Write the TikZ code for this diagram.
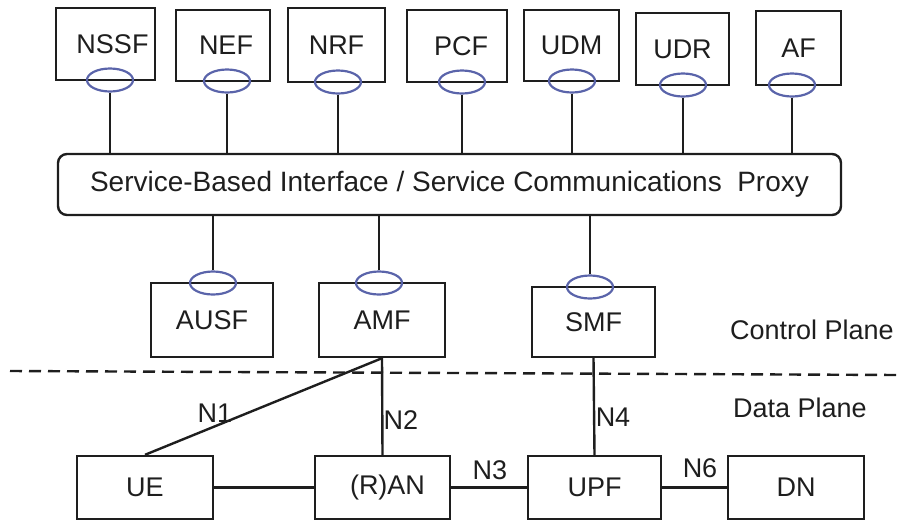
\documentclass[tikz,border=0pt]{standalone}
\usepackage{fontspec}
\setmainfont{Liberation Sans}
\usetikzlibrary{shapes.geometric}
\definecolor{ink}{RGB}{30,30,30}
\definecolor{portblue}{RGB}{90,100,170}
\tikzset{
  nf/.style={rectangle,draw=ink,line width=2.4pt,inner sep=0pt,text=ink,font=\fontsize{27}{30}\selectfont},
  port/.style={ellipse,draw=portblue,line width=2.2pt,minimum width=46pt,minimum height=23pt,inner sep=0pt},
  lbl/.style={inner sep=0pt,text=ink,font=\fontsize{27}{30}\selectfont},
  link/.style={draw=ink,line width=2.4pt},
}
\begin{document}
\begin{tikzpicture}[x=1pt,y=-1pt]
\useasboundingbox (0,0) rectangle (899,520);
% network functions on top
\node[nf,minimum width=99pt,minimum height=72pt] (nssf) at (105.5,44){\hspace{14pt}NSSF};
\node[nf,minimum width=94pt,minimum height=71pt] (nef) at (223,45.5){\hspace{6pt}NEF};
\node[nf,minimum width=97pt,minimum height=74pt] (nrf) at (336.5,45){NRF};
\node[nf,minimum width=100pt,minimum height=72pt] (pcf) at (457,46){\hspace{8pt}PCF};
\node[nf,minimum width=95pt,minimum height=71pt] (udm) at (571.5,45.5){UDM};
\node[nf,minimum width=93pt,minimum height=72pt] (udr) at (682.5,49){UDR};
\node[nf,minimum width=85pt,minimum height=74pt] (af) at (798.5,48){AF};
% service based interface
\node[rectangle,rounded corners=9pt,draw=ink,line width=2.4pt,minimum width=783pt,minimum height=61pt,
  text=ink,font=\fontsize{28}{30}\selectfont] (sbi) at (449.5,184.5)
  {Service-Based Interface / Service Communications\ \ Proxy};
% control plane functions
\node[nf,minimum width=122pt,minimum height=74pt] (ausf) at (212,320){AUSF};
\node[nf,minimum width=126pt,minimum height=74pt] (amf) at (382,320){AMF};
\node[nf,minimum width=123pt,minimum height=70pt] (smf) at (593.5,322){SMF};
% data plane
\node[nf,minimum width=136pt,minimum height=63pt] (ue) at (145,487.5){UE};
\node[nf,minimum width=135pt,minimum height=63pt] (ran) at (382.5,487.5){\hspace{10pt}(R)AN};
\node[nf,minimum width=133pt,minimum height=63pt] (upf) at (594.5,487.5){UPF};
\node[nf,minimum width=136pt,minimum height=63pt] (dn) at (796,487.5){DN};
% service interfaces
\node[port] (nssfp) at (110,80){};
\node[port] (nefp) at (227,81){};
\node[port] (nrfp) at (338,82){};
\node[port] (pcfp) at (462,82){};
\node[port] (udmp) at (572,81){};
\node[port] (udrp) at (683,85){};
\node[port] (afp) at (792,85){};
\node[port] (ausfp) at (213,283){};
\node[port] (amfp) at (379,283){};
\node[port] (smfp) at (590,287){};
\foreach \p in {nssfp,nefp,nrfp,pcfp,udmp,udrp,afp}
  \draw[link] (\p.south) -- (\p.south |- sbi.north);
\foreach \p in {ausfp,amfp,smfp}
  \draw[link] (\p.north) -- (\p.north |- sbi.south);
% plane separator
\coordinate (sepl) at (10,371);
\coordinate (sepr) at (899,375);
\draw[draw=ink,line width=2.4pt,dash pattern=on 12pt off 7pt] (sepl) -- (sepr);
\node[lbl] (cp) at (812,330){Control Plane};
\node[lbl] (dp) at (800,408){Data Plane};
% reference points
\draw[link] (amf.south) -- (ue.north);
\draw[link] (amf.south) -- (ran.north);
\draw[link] (smf.south) -- (upf.north);
\draw[link] (ue.east) -- (ran.west);
\draw[link] (ran.east) -- (upf.west);
\draw[link] (upf.east) -- (dn.west);
\node[lbl] (n1) at (215,413){N1};
\node[lbl] (n2) at (401,420){N2};
\node[lbl] (n3) at (490,470){N3};
\node[lbl] (n4) at (613,417){N4};
\node[lbl] (n6) at (700,468){N6};
\end{tikzpicture}
\end{document}
